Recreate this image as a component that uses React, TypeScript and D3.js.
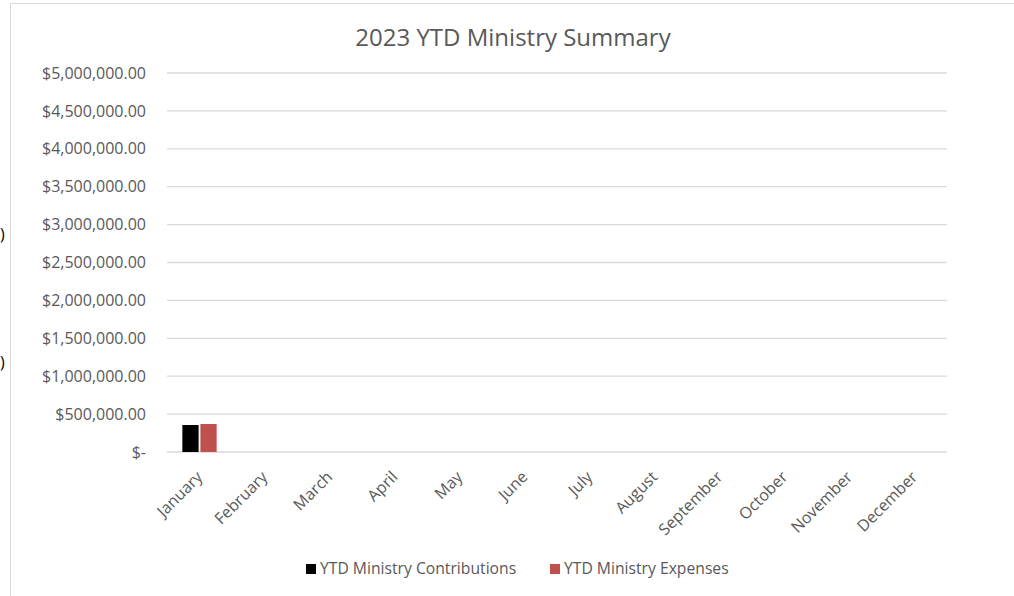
import { scaleBand, scaleLinear, format } from "d3";

const months = [
  "January", "February", "March", "April", "May", "June",
  "July", "August", "September", "October", "November", "December",
];
const contributions = [356000, 0, 0, 0, 0, 0, 0, 0, 0, 0, 0, 0];
const expenses = [369000, 0, 0, 0, 0, 0, 0, 0, 0, 0, 0, 0];
const yTicks = [0, 500000, 1000000, 1500000, 2000000, 2500000, 3000000, 3500000, 4000000, 4500000, 5000000];
const seriesNames = ["YTD Ministry Contributions", "YTD Ministry Expenses"];
const seriesColors = ["#000000", "#c0504d"];

const W = 1014;
const H = 596;
const plot = { left: 167, right: 947, top: 73, bottom: 452 };
const font = "'Open Sans', sans-serif";
const money = format(",.2f");

export default function App() {
  const x = scaleBand<string>().domain(months).range([plot.left, plot.right]);
  const sub = scaleBand<number>().domain([0, 1]).range([0, x.bandwidth()]).paddingInner(0.1).paddingOuter(0.85);
  const y = scaleLinear().domain([0, 5000000]).range([plot.bottom, plot.top]);
  const series = [contributions, expenses];

  return (
    <svg width={W} height={H} style={{ position: "absolute", left: 0, top: 0, background: "#fff" }} fontFamily={font}>
      <rect x={10.5} y={3.5} width={W} height={H} fill="#fff" stroke="#d9d9d9" />
      <text x={0} y={240} fontSize={16} fill="#000">)</text>
      <text x={0} y={368} fontSize={16} fill="#000">)</text>

      <text x={513} y={46} textAnchor="middle" fontSize={24} fill="#595959">2023 YTD Ministry Summary</text>

      {yTicks.map((t) => (
        <g key={t}>
          <line x1={plot.left} x2={plot.right} y1={y(t)} y2={y(t)} stroke="#d9d9d9" strokeWidth={1.3} />
          <text x={146} y={y(t)} dy="0.35em" textAnchor="end" fontSize={16} fill="#595959">
            {t === 0 ? "$-" : "$" + money(t)}
          </text>
        </g>
      ))}

      {series.map((vals, si) =>
        vals.map((v, i) =>
          v > 0 ? (
            <rect
              key={`${si}-${i}`}
              x={(x(months[i]) ?? 0) + (sub(si) ?? 0)}
              y={y(v)}
              width={sub.bandwidth()}
              height={y(0) - y(v)}
              fill={seriesColors[si]}
            />
          ) : null
        )
      )}

      {months.map((m) => {
        const cx = (x(m) ?? 0) + x.bandwidth() / 2 + 4;
        return (
          <text key={m} transform={`translate(${cx},${478}) rotate(-45)`} textAnchor="end" fontSize={16} fill="#595959">
            {m}
          </text>
        );
      })}

      {seriesNames.map((n, i) => {
        const lx = i === 0 ? 306 : 550;
        return (
          <g key={n}>
            <rect x={lx} y={564} width={10} height={10} fill={seriesColors[i]} />
            <text x={lx + 14} y={569} dy="0.35em" fontSize={15.7} fill="#595959">{n}</text>
          </g>
        );
      })}
    </svg>
  );
}
